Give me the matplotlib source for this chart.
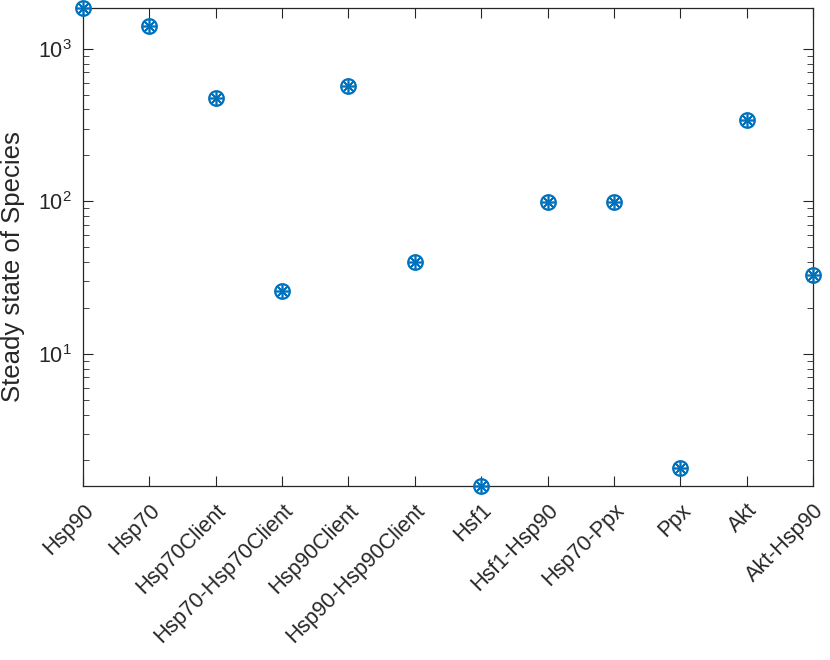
import numpy as np
import matplotlib
matplotlib.use("Agg")
import matplotlib.pyplot as plt
from matplotlib.ticker import LogLocator, NullFormatter

plt.rcParams["font.family"] = ["Liberation Sans", "DejaVu Sans"]
plt.rcParams["mathtext.fontset"] = "custom"
plt.rcParams["mathtext.rm"] = "Liberation Sans"

# ── data ───────────────────────────────────────────────────────────────────────
species = ["Hsp90", "Hsp70", "Hsp70Client", "Hsp70-Hsp70Client", "Hsp90Client",
           "Hsp90-Hsp90Client", "Hsf1", "Hsf1-Hsp90", "Hsp70-Ppx", "Ppx", "Akt",
           "Akt-Hsp90"]
steady = [1850, 1420, 477, 25.7, 572, 40.0, 1.36, 99, 99, 1.79, 342, 32.7]

BLUE = "#0072BD"
AXC = "#262626"

# ── figure ─────────────────────────────────────────────────────────────────────
fig = plt.figure(figsize=(8.3, 6.6), dpi=100)
ax = fig.add_axes([0.1, 0.2636, 0.8795, 0.7243])

x = np.arange(1, len(species) + 1)
ax.plot(x, steady, linestyle="none", marker="o", markersize=10.5,
        markerfacecolor="none", markeredgecolor=BLUE, markeredgewidth=1.6,
        clip_on=False, zorder=3)
ax.plot(x, steady, linestyle="none", marker=(8, 2, 0), markersize=10,
        markeredgecolor=BLUE, markeredgewidth=1.2,
        clip_on=False, zorder=3)

ax.set_yscale("log")
ax.set_xlim(1, len(species))
ax.set_ylim(min(steady), max(steady))
ax.yaxis.set_major_locator(LogLocator(base=10, numticks=10))
ax.yaxis.set_minor_locator(LogLocator(base=10, subs=np.arange(2, 10), numticks=20))
ax.yaxis.set_minor_formatter(NullFormatter())

ax.set_xticks(x)
ax.set_xticklabels(species, rotation=45, ha="right", rotation_mode="anchor")
ax.set_ylabel("Steady state of Species", fontsize=18.5, color=AXC)
ax.yaxis.set_label_coords(-0.080, 0.46)

ax.tick_params(which="both", direction="in", top=True, right=True,
               colors=AXC, labelsize=15.5)
ax.tick_params(which="major", length=7, width=0.8)
ax.tick_params(which="minor", length=4, width=0.6)
ax.tick_params(axis="x", pad=10)
ax.tick_params(axis="y", pad=8)
for s in ax.spines.values():
    s.set_color(AXC)
    s.set_linewidth(0.9)

fig.savefig("out.png", dpi=100)
